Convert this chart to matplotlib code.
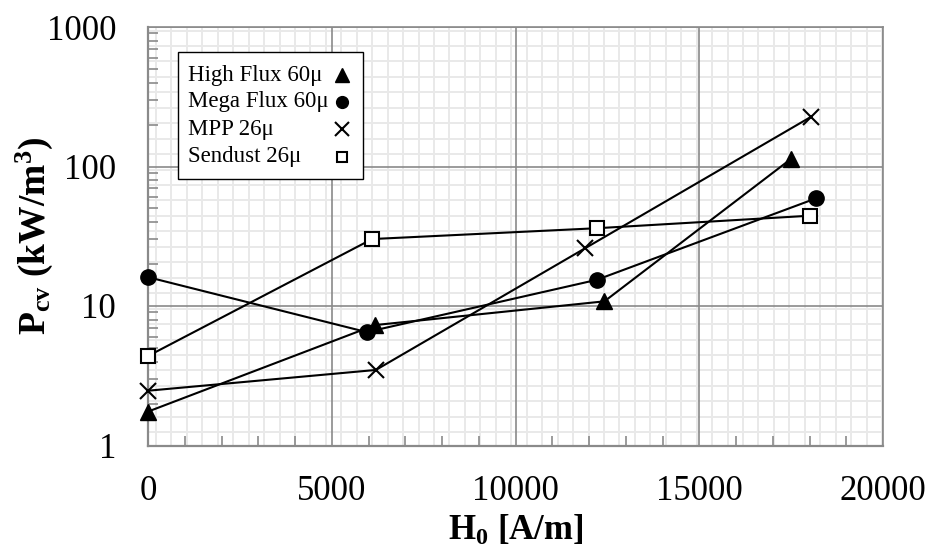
import matplotlib
matplotlib.use('Agg')
import matplotlib.pyplot as plt
from matplotlib.ticker import FixedLocator, MultipleLocator, LogLocator, NullFormatter, FuncFormatter
from matplotlib.patches import Rectangle

# データ (H0 [A/m], Pcv [kW/m3])
h_high_flux = [0, 6180, 12420, 17490]
p_high_flux = [1.75, 7.3, 10.8, 113]
h_mega_flux = [0, 5950, 12210, 18170]
p_mega_flux = [16.1, 6.5, 15.4, 59]
h_mpp = [0, 6200, 11890, 18040]
p_mpp = [2.47, 3.48, 25.9, 227]
h_sendust = [0, 6100, 12210, 18020]
p_sendust = [4.38, 30.2, 36.1, 44.4]

labels = ['High Flux 60\u03bc', 'Mega Flux 60\u03bc', 'MPP 26\u03bc', 'Sendust 26\u03bc']
x_ticks = [0, 5000, 10000, 15000, 20000]
y_ticks = [1, 10, 100, 1000]

plt.rcParams['font.family'] = ['Liberation Serif', 'DejaVu Serif']
plt.rcParams['mathtext.fontset'] = 'custom'
plt.rcParams['mathtext.rm'] = 'Liberation Serif:bold'
plt.rcParams['mathtext.it'] = 'Liberation Serif:bold'
plt.rcParams['mathtext.bf'] = 'Liberation Serif:bold'

W, H = 935, 554
L, R, T, B = 148, 883, 27, 445.5
fig = plt.figure(figsize=(W / 100, H / 100), dpi=100)
ax = fig.add_axes([L / W, (H - B) / H, (R - L) / W, (B - T) / H])

grey = '#8a8a8a'

# 背景の格子模様 (プロットエリアのパターン)
step = 15.45
x = 155.9
while x < R:
    ax.plot([(x - L) / (R - L)] * 2, [0, 1], color='#e9e9e9', lw=1.4,
            transform=ax.transAxes, zorder=0.2)
    x += step
y = B - 13.3
while y > T:
    ax.plot([0, 1], [(B - y) / (B - T)] * 2, color='#e9e9e9', lw=1.4,
            transform=ax.transAxes, zorder=0.2)
    y -= step

series = [
    (h_high_flux, p_high_flux, dict(marker='^', ms=11.5, mfc='black', mec='black')),
    (h_mega_flux, p_mega_flux, dict(marker='o', ms=11, mfc='black', mec='black')),
    (h_mpp, p_mpp, dict(marker='x', ms=11, mec='black', mew=1.5)),
    (h_sendust, p_sendust, dict(marker='s', ms=9.5, mfc='white', mec='black', mew=1.5)),
]
for hx, py, st in series:
    ax.plot(hx, py, color='black', lw=1.5, zorder=3, clip_on=False, **st)

ax.set_yscale('log')
ax.set_xlim(0, 20000)
ax.set_ylim(1, 1000)

ax.xaxis.set_major_locator(FixedLocator(x_ticks))
ax.xaxis.set_minor_locator(MultipleLocator(1000))
ax.yaxis.set_major_locator(FixedLocator(y_ticks))
ax.yaxis.set_minor_locator(LogLocator(base=10, subs=range(2, 10)))
ax.yaxis.set_minor_formatter(NullFormatter())
ax.yaxis.set_major_formatter(FuncFormatter(lambda v, p: '%d' % v))
ax.xaxis.set_major_formatter(FuncFormatter(lambda v, p: '%d' % v))

ax.tick_params(which='major', length=0, labelsize=25, colors='black')
ax.tick_params(axis='x', which='major', pad=21)
ax.tick_params(axis='y', which='major', pad=23)
ax.tick_params(which='minor', direction='in', length=7, width=1.2, color=grey)

ax.grid(which='major', color=grey, lw=1.2)
ax.set_axisbelow(True)
for sp in ax.spines.values():
    sp.set_color(grey)
    sp.set_linewidth(1.2)
for s in ['left', 'bottom']:
    ax.spines[s].set_linewidth(1.6)

ax.set_xlabel(r'H$_{0}$ [A/m]', fontsize=25, fontweight='bold')
ax.set_ylabel(r'P$_{cv}$ (kW/m$^{3}$)', fontsize=27, fontweight='bold')
ax.xaxis.set_label_coords(0.5, (B - 514) / (B - T))
ax.yaxis.set_label_coords((55 - L) / (R - L), 0.5)

# 凡例 (手書き)
def fx(px):
    return (px - L) / (R - L)

def fy(py):
    return (B - py) / (B - T)

ax.add_patch(Rectangle((fx(178), fy(179)), fx(363) - fx(178), fy(52) - fy(179),
                       transform=ax.transAxes, facecolor='white', edgecolor='black',
                       lw=1.0, zorder=5))
rows = [75, 101.7, 129.3, 156.7]
leg_ms = [9.5, 8.5, 10, 7.5]
for (hx, py, st), lab, ry, ms in zip(series, labels, rows, leg_ms):
    ax.text(fx(188), fy(ry), lab, fontsize=16.5, va='center', ha='left',
            transform=ax.transAxes, zorder=6)
    st2 = dict(st)
    st2['ms'] = ms
    ax.plot([fx(341.5)], [fy(ry)], ls='none', transform=ax.transAxes,
            zorder=6, clip_on=False, **st2)

fig.savefig('out.png', dpi=100)
